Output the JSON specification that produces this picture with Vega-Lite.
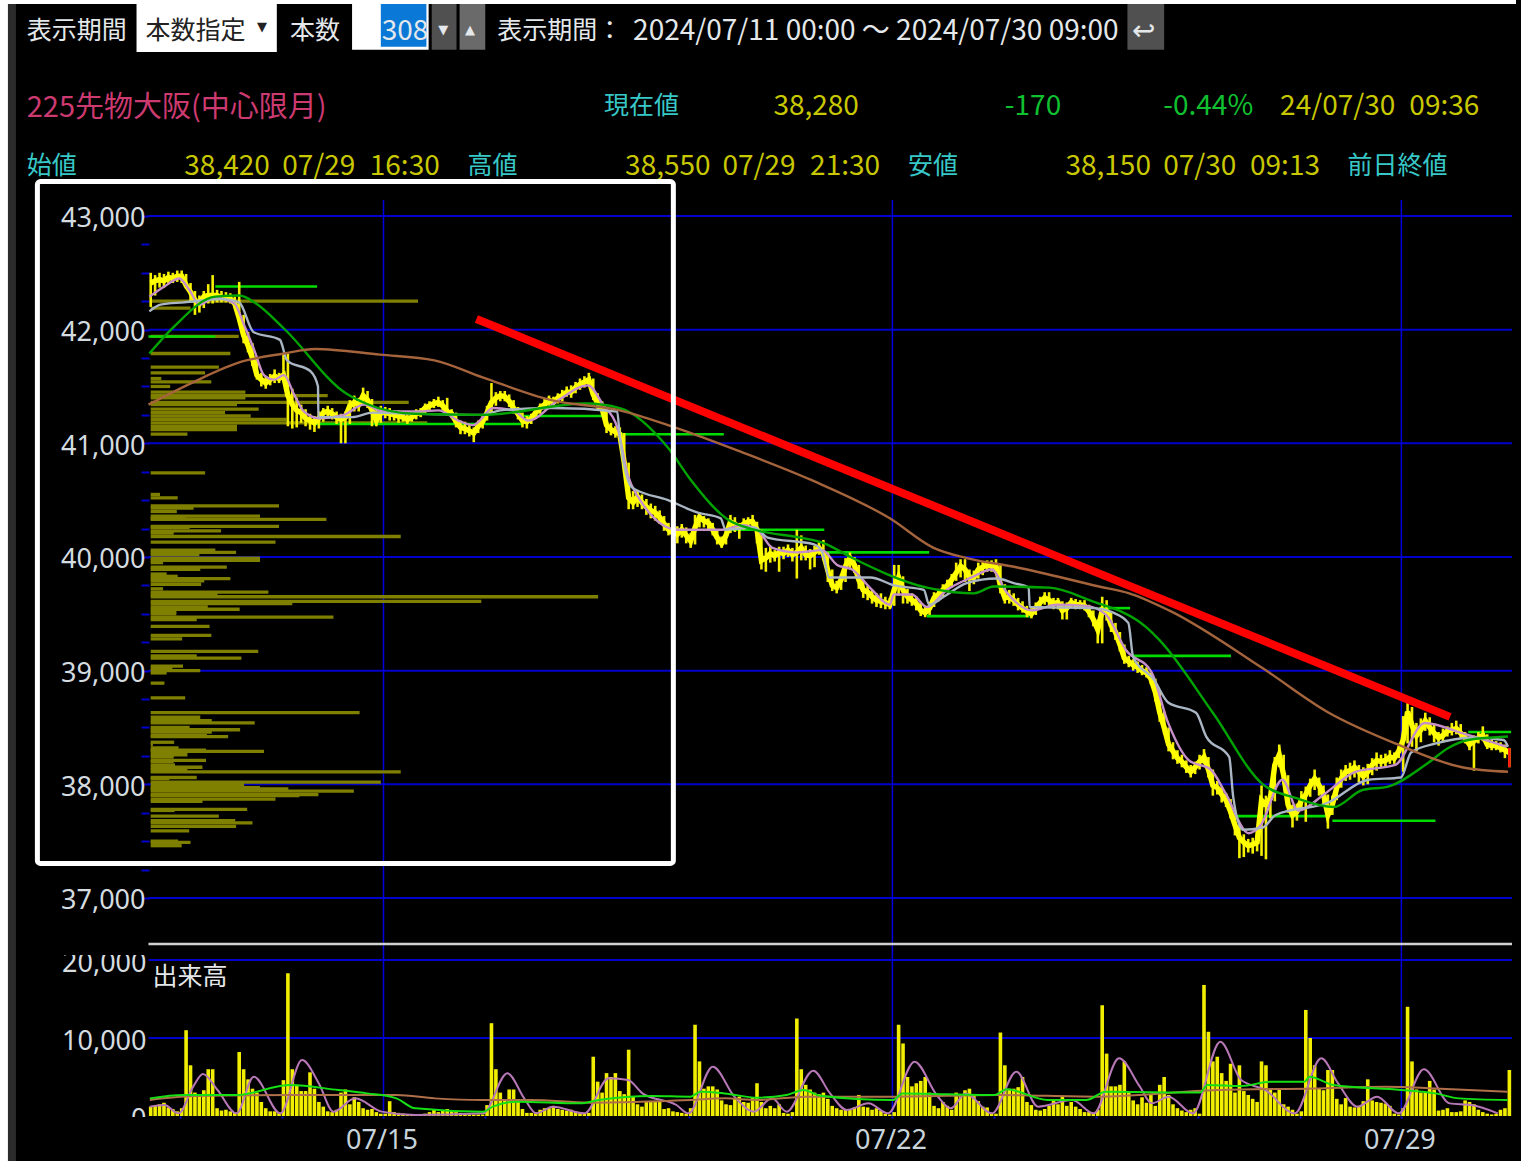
{"$schema":"https://vega.github.io/schema/vega-lite/v6.json","width":1521,"height":1161,"padding":0,"autosize":{"type":"fit","contains":"padding"},"background":"#000000","config":{"view":{"stroke":null}},
"datasets":{
"chrome":[{"a":-34.05,"b":-32.25,"t":0.5,"u":19.85,"kind":"white"},{"a":-32.25,"b":-30.45,"t":0.567,"u":19.85,"kind":"strip"},{"a":-34.05,"b":308.5,"t":0.5,"u":0.567,"kind":"white"},{"a":-3.2,"b":28.5,"t":0.567,"u":1.367,"kind":"white"},{"a":45.5,"b":62.8,"t":0.567,"u":1.33,"kind":"white"},{"a":52,"b":62.3,"t":0.567,"u":1.28,"kind":"select"},{"a":63.5,"b":69.1,"t":0.567,"u":1.33,"kind":"btn1"},{"a":69.8,"b":75.6,"t":0.567,"u":1.33,"kind":"btn2"},{"a":220.7,"b":229,"t":0.567,"u":1.33,"kind":"btn1"}],
"texts":[{"label":"表示期間","col":-28,"line":1,"group":"caption","kind":"ui"},{"label":"本数指定","col":-1.2,"line":1,"group":"caption","kind":"inverse"},{"label":"本数","col":31.5,"line":1,"group":"caption","kind":"ui"},{"label":"表示期間：","col":78.3,"line":1,"group":"caption","kind":"ui"},{"label":"308","col":52.2,"line":1,"group":"number","kind":"ui"},{"label":"2024/07/11 00:00 ～ 2024/07/30 09:00","col":109,"line":1,"group":"number","kind":"ui"},{"label":"↩","col":221.8,"line":1,"group":"number","kind":"ui"},{"label":"▼","col":24,"line":0.95,"group":"arrow","kind":"inverse"},{"label":"▼","col":65,"line":1,"group":"arrow","kind":"ui"},{"label":"▲","col":71,"line":1,"group":"arrow","kind":"ui"},
{"label":"225先物大阪(中心限月)","col":-28,"line":2.3,"group":"title","kind":"title"},{"label":"現在値","col":102.4,"line":2.25,"group":"caption","kind":"label"},{"label":"38,280","col":140.7,"line":2.25,"group":"number","kind":"value"},{"label":"-170","col":193,"line":2.25,"group":"number","kind":"change"},{"label":"-0.44%","col":228.8,"line":2.25,"group":"number","kind":"change"},{"label":"24/07/30","col":255.2,"line":2.25,"group":"number","kind":"value"},{"label":"09:36","col":284.4,"line":2.25,"group":"number","kind":"value"},
{"label":"始値","col":-28,"line":3.25,"group":"caption","kind":"label"},{"label":"38,420","col":7.6,"line":3.25,"group":"number","kind":"value"},{"label":"07/29","col":29.7,"line":3.25,"group":"number","kind":"value"},{"label":"16:30","col":49.5,"line":3.25,"group":"number","kind":"value"},{"label":"高値","col":71.6,"line":3.25,"group":"caption","kind":"label"},{"label":"38,550","col":107.2,"line":3.25,"group":"number","kind":"value"},{"label":"07/29","col":129.2,"line":3.25,"group":"number","kind":"value"},{"label":"21:30","col":149,"line":3.25,"group":"number","kind":"value"},{"label":"安値","col":171.1,"line":3.25,"group":"caption","kind":"label"},{"label":"38,150","col":206.7,"line":3.25,"group":"number","kind":"value"},{"label":"07/30","col":228.8,"line":3.25,"group":"number","kind":"value"},{"label":"09:13","col":248.4,"line":3.25,"group":"number","kind":"value"},{"label":"前日終値","col":270.4,"line":3.25,"group":"caption","kind":"label"},{"label":"出来高","col":0.4,"line":16.77,"group":"caption","kind":"ui"}],
"priceGrid":[{"level":43000,"from":-0.5,"to":307.6},{"level":42000,"from":-0.5,"to":307.6},{"level":41000,"from":-0.5,"to":307.6},{"level":40000,"from":-0.5,"to":307.6},{"level":39000,"from":-0.5,"to":307.6},{"level":38000,"from":-0.5,"to":307.6},{"level":37000,"from":-0.5,"to":307.6}],
"weeks":[{"bar":52.6,"top":43140,"bottom":35082},{"bar":167.6,"top":43140,"bottom":35082},{"bar":282.6,"top":43140,"bottom":35082}],
"frame":[{"left":-25.6,"right":118.1,"top":43303,"bottom":37304}],
"trend":[{"bar":73.6,"price":42094},{"bar":293.6,"price":38593}],
"pivots":[{"from":14.6,"to":37.6,"level":42380},{"from":-0.5,"to":14.6,"level":41940},{"from":37.3,"to":84.2,"level":41170},{"from":84,"to":102.7,"level":41240},{"from":106.5,"to":129.5,"level":41080},{"from":130.4,"to":152.2,"level":40240},{"from":152.2,"to":175.9,"level":40040},{"from":175.4,"to":198.6,"level":39480},{"from":214.3,"to":221.3,"level":39550},{"from":222,"to":244.1,"level":39130},{"from":244.6,"to":266.2,"level":37720},{"from":267,"to":290.3,"level":37680},{"from":297.7,"to":307.4,"level":38460}],
"profile":[{"price":42250,"extent":60.4},{"price":42190,"extent":9},{"price":41940,"extent":19.9},{"price":41790,"extent":18},{"price":41670,"extent":15.4},{"price":41620,"extent":12.3},{"price":41570,"extent":2.4},{"price":41540,"extent":13.7},{"price":41500,"extent":4.4},{"price":41450,"extent":21.4},{"price":41420,"extent":40},{"price":41400,"extent":21.4},{"price":41360,"extent":58.3},{"price":41340,"extent":19.5},{"price":41300,"extent":24.4},{"price":41270,"extent":16.8},{"price":41240,"extent":22.6},{"price":41210,"extent":30.7},{"price":41180,"extent":62.5},{"price":41150,"extent":19.5},{"price":41120,"extent":19.5},{"price":41080,"extent":8.3},{"price":40740,"extent":12.3},{"price":40550,"extent":2.1},{"price":40520,"extent":6.1},{"price":40450,"extent":29},{"price":40430,"extent":9.7},{"price":40400,"extent":5.9},{"price":40360,"extent":24.7},{"price":40340,"extent":7.9},{"price":40330,"extent":39.7},{"price":40270,"extent":29},{"price":40260,"extent":8.8},{"price":40230,"extent":15.9},{"price":40210,"extent":5.2},{"price":40180,"extent":56.5},{"price":40130,"extent":28.2},{"price":40060,"extent":14.6},{"price":40040,"extent":19.3},{"price":40020,"extent":11},{"price":39990,"extent":24.7},{"price":39970,"extent":24.7},{"price":39950,"extent":2.8},{"price":39910,"extent":17.2},{"price":39890,"extent":11.2},{"price":39850,"extent":3.6},{"price":39830,"extent":6.1},{"price":39810,"extent":18},{"price":39790,"extent":12.1},{"price":39760,"extent":11.4},{"price":39720,"extent":2.8},{"price":39690,"extent":26.6},{"price":39670,"extent":15.1},{"price":39650,"extent":101.1},{"price":39610,"extent":74.7},{"price":39590,"extent":32},{"price":39560,"extent":12.9},{"price":39540,"extent":20.1},{"price":39520,"extent":5.8},{"price":39500,"extent":5.8},{"price":39470,"extent":41.3},{"price":39450,"extent":10.4},{"price":39390,"extent":13.3},{"price":39310,"extent":13.7},{"price":39280,"extent":7.1},{"price":39170,"extent":24.3},{"price":39130,"extent":10.4},{"price":39110,"extent":20.5},{"price":39040,"extent":7.3},{"price":39020,"extent":4.9},{"price":39000,"extent":11.2},{"price":38980,"extent":3.6},{"price":38890,"extent":3.1},{"price":38760,"extent":7.8},{"price":38630,"extent":47.2},{"price":38590,"extent":11.2},{"price":38560,"extent":13.8},{"price":38540,"extent":23.5},{"price":38500,"extent":8.8},{"price":38480,"extent":20.2},{"price":38460,"extent":13.8},{"price":38430,"extent":12.7},{"price":38420,"extent":17.5},{"price":38370,"extent":5.3},{"price":38350,"extent":0.5},{"price":38320,"extent":6.3},{"price":38300,"extent":12.5},{"price":38290,"extent":25.6},{"price":38260,"extent":8.3},{"price":38240,"extent":5.2},{"price":38210,"extent":12.5},{"price":38200,"extent":5.2},{"price":38170,"extent":5.5},{"price":38150,"extent":11.7},{"price":38130,"extent":8.3},{"price":38110,"extent":56.5},{"price":38060,"extent":10.4},{"price":38050,"extent":4.2},{"price":38020,"extent":52},{"price":38000,"extent":21.1},{"price":37970,"extent":24.7},{"price":37960,"extent":31.1},{"price":37940,"extent":45.9},{"price":37910,"extent":37.9},{"price":37900,"extent":33.6},{"price":37870,"extent":28.2},{"price":37850,"extent":11.7},{"price":37780,"extent":21.8},{"price":37770,"extent":5.4},{"price":37720,"extent":15.4},{"price":37680,"extent":19.1},{"price":37660,"extent":23},{"price":37630,"extent":19.3},{"price":37590,"extent":8.7},{"price":37500,"extent":6.2},{"price":37490,"extent":9},{"price":37460,"extent":7}],
"priceMA":[{"ma":"short","bar":-0.3,"v":42290},{"ma":"short","bar":3.1,"v":42380},{"ma":"short","bar":6.5,"v":42450},{"ma":"short","bar":8.7,"v":42350},{"ma":"short","bar":11,"v":42220},{"ma":"short","bar":14.4,"v":42280},{"ma":"short","bar":18.9,"v":42230},{"ma":"short","bar":21.1,"v":42040},{"ma":"short","bar":23.4,"v":41820},{"ma":"short","bar":25.6,"v":41600},{"ma":"short","bar":27.9,"v":41560},{"ma":"short","bar":30.1,"v":41600},{"ma":"short","bar":32.4,"v":41430},{"ma":"short","bar":34.6,"v":41280},{"ma":"short","bar":38,"v":41220},{"ma":"short","bar":43.6,"v":41250},{"ma":"short","bar":48.2,"v":41340},{"ma":"short","bar":52.7,"v":41280},{"ma":"short","bar":60.5,"v":41280},{"ma":"short","bar":65,"v":41290},{"ma":"short","bar":69.5,"v":41200},{"ma":"short","bar":72.9,"v":41160},{"ma":"short","bar":77.4,"v":41310},{"ma":"short","bar":81.9,"v":41290},{"ma":"short","bar":85.3,"v":41200},{"ma":"short","bar":92.1,"v":41380},{"ma":"short","bar":98.8,"v":41510},{"ma":"short","bar":102.2,"v":41340},{"ma":"short","bar":105.6,"v":41120},{"ma":"short","bar":107.8,"v":40720},{"ma":"short","bar":110.1,"v":40530},{"ma":"short","bar":119.1,"v":40240},{"ma":"short","bar":123.6,"v":40240},{"ma":"short","bar":129.2,"v":40240},{"ma":"short","bar":133.7,"v":40280},{"ma":"short","bar":137.1,"v":40240},{"ma":"short","bar":140.5,"v":40080},{"ma":"short","bar":146.1,"v":40040},{"ma":"short","bar":151.7,"v":40060},{"ma":"short","bar":155.1,"v":39930},{"ma":"short","bar":158.5,"v":39890},{"ma":"short","bar":163,"v":39710},{"ma":"short","bar":167,"v":39580},{"ma":"short","bar":167.9,"v":39670},{"ma":"short","bar":172,"v":39670},{"ma":"short","bar":175.4,"v":39560},{"ma":"short","bar":179.9,"v":39710},{"ma":"short","bar":185.5,"v":39820},{"ma":"short","bar":190,"v":39890},{"ma":"short","bar":193.4,"v":39690},{"ma":"short","bar":199.1,"v":39530},{"ma":"short","bar":204.7,"v":39580},{"ma":"short","bar":211.4,"v":39570},{"ma":"short","bar":215.9,"v":39490},{"ma":"short","bar":220.4,"v":39180},{"ma":"short","bar":226.1,"v":38990},{"ma":"short","bar":229.9,"v":38540},{"ma":"short","bar":234.6,"v":38210},{"ma":"short","bar":239.5,"v":38130},{"ma":"short","bar":242.9,"v":37920},{"ma":"short","bar":248.1,"v":37570},{"ma":"short","bar":250.8,"v":37640},{"ma":"short","bar":255.7,"v":38040},{"ma":"short","bar":259.3,"v":37770},{"ma":"short","bar":265.4,"v":37920},{"ma":"short","bar":272.2,"v":38110},{"ma":"short","bar":281.2,"v":38170},{"ma":"short","bar":287.9,"v":38540},{"ma":"short","bar":296.3,"v":38450},{"ma":"short","bar":306.4,"v":38330},
{"ma":"mid","bar":-0.3,"v":42160},{"ma":"mid","bar":2.2,"v":42220},{"ma":"mid","bar":7.6,"v":42240},{"ma":"mid","bar":16.2,"v":42270},{"ma":"mid","bar":20,"v":42240},{"ma":"mid","bar":23.2,"v":41980},{"ma":"mid","bar":29.2,"v":41910},{"ma":"mid","bar":30.8,"v":41730},{"ma":"mid","bar":36.2,"v":41630},{"ma":"mid","bar":37.8,"v":41500},{"ma":"mid","bar":37.9,"v":41230},{"ma":"mid","bar":45.5,"v":41230},{"ma":"mid","bar":50.2,"v":41270},{"ma":"mid","bar":59.4,"v":41260},{"ma":"mid","bar":75,"v":41250},{"ma":"mid","bar":79,"v":41290},{"ma":"mid","bar":90.5,"v":41310},{"ma":"mid","bar":105.4,"v":41280},{"ma":"mid","bar":106,"v":41060},{"ma":"mid","bar":108.8,"v":40610},{"ma":"mid","bar":116.9,"v":40500},{"ma":"mid","bar":123.6,"v":40390},{"ma":"mid","bar":128.8,"v":40340},{"ma":"mid","bar":129.9,"v":40240},{"ma":"mid","bar":136.4,"v":40260},{"ma":"mid","bar":139.4,"v":40170},{"ma":"mid","bar":149.9,"v":40110},{"ma":"mid","bar":151.8,"v":40040},{"ma":"mid","bar":153.3,"v":39820},{"ma":"mid","bar":162.6,"v":39820},{"ma":"mid","bar":168,"v":39750},{"ma":"mid","bar":174.7,"v":39710},{"ma":"mid","bar":175.9,"v":39580},{"ma":"mid","bar":179.2,"v":39650},{"ma":"mid","bar":184.4,"v":39770},{"ma":"mid","bar":191.2,"v":39810},{"ma":"mid","bar":195,"v":39770},{"ma":"mid","bar":198.4,"v":39730},{"ma":"mid","bar":198.6,"v":39560},{"ma":"mid","bar":213,"v":39550},{"ma":"mid","bar":217.5,"v":39510},{"ma":"mid","bar":220.9,"v":39420},{"ma":"mid","bar":222,"v":39120},{"ma":"mid","bar":226.7,"v":38920},{"ma":"mid","bar":229.9,"v":38720},{"ma":"mid","bar":236.2,"v":38630},{"ma":"mid","bar":238.5,"v":38420},{"ma":"mid","bar":243.7,"v":38240},{"ma":"mid","bar":244.6,"v":37890},{"ma":"mid","bar":246.8,"v":37600},{"ma":"mid","bar":251.3,"v":37620},{"ma":"mid","bar":254.2,"v":37730},{"ma":"mid","bar":266.1,"v":37840},{"ma":"mid","bar":275.1,"v":38040},{"ma":"mid","bar":282.5,"v":38060},{"ma":"mid","bar":284.8,"v":38280},{"ma":"mid","bar":290.4,"v":38360},{"ma":"mid","bar":298.7,"v":38410},{"ma":"mid","bar":305.7,"v":38390},{"ma":"mid","bar":306.7,"v":38330},
{"ma":"long","bar":-0.3,"v":41790},{"ma":"long","bar":5.1,"v":42020},{"ma":"long","bar":14.6,"v":42290},{"ma":"long","bar":20,"v":42300},{"ma":"long","bar":23.8,"v":42230},{"ma":"long","bar":30.1,"v":42010},{"ma":"long","bar":44.1,"v":41440},{"ma":"long","bar":48.6,"v":41350},{"ma":"long","bar":59.4,"v":41260},{"ma":"long","bar":75,"v":41250},{"ma":"long","bar":98.4,"v":41350},{"ma":"long","bar":106,"v":41310},{"ma":"long","bar":116.9,"v":40960},{"ma":"long","bar":122,"v":40680},{"ma":"long","bar":130.4,"v":40330},{"ma":"long","bar":136.4,"v":40240},{"ma":"long","bar":146.8,"v":40170},{"ma":"long","bar":152.2,"v":40120},{"ma":"long","bar":158.1,"v":40000},{"ma":"long","bar":175.4,"v":39730},{"ma":"long","bar":181.5,"v":39690},{"ma":"long","bar":186,"v":39680},{"ma":"long","bar":190.5,"v":39740},{"ma":"long","bar":203.1,"v":39730},{"ma":"long","bar":212.1,"v":39620},{"ma":"long","bar":225,"v":39380},{"ma":"long","bar":227.9,"v":39270},{"ma":"long","bar":240,"v":38630},{"ma":"long","bar":251.3,"v":38000},{"ma":"long","bar":258.7,"v":37880},{"ma":"long","bar":267.3,"v":37800},{"ma":"long","bar":273.8,"v":37950},{"ma":"long","bar":279.6,"v":37980},{"ma":"long","bar":288.7,"v":38190},{"ma":"long","bar":293.2,"v":38320},{"ma":"long","bar":297.7,"v":38390},{"ma":"long","bar":306.7,"v":38420},
{"ma":"slow","bar":-0.5,"v":41340},{"ma":"slow","bar":9.2,"v":41530},{"ma":"slow","bar":20.7,"v":41720},{"ma":"slow","bar":30.1,"v":41790},{"ma":"slow","bar":37.1,"v":41830},{"ma":"slow","bar":51.8,"v":41780},{"ma":"slow","bar":64.1,"v":41730},{"ma":"slow","bar":75,"v":41580},{"ma":"slow","bar":90.5,"v":41380},{"ma":"slow","bar":106,"v":41290},{"ma":"slow","bar":116.9,"v":41160},{"ma":"slow","bar":133.7,"v":40920},{"ma":"slow","bar":149.1,"v":40680},{"ma":"slow","bar":167,"v":40340},{"ma":"slow","bar":176.9,"v":40080},{"ma":"slow","bar":184.4,"v":39990},{"ma":"slow","bar":195.6,"v":39910},{"ma":"slow","bar":214.3,"v":39740},{"ma":"slow","bar":221.1,"v":39680},{"ma":"slow","bar":230.1,"v":39530},{"ma":"slow","bar":251.3,"v":39020},{"ma":"slow","bar":266.2,"v":38630},{"ma":"slow","bar":281.2,"v":38360},{"ma":"slow","bar":296.3,"v":38150},{"ma":"slow","bar":306.7,"v":38110}],
"volumeMA":[{"ma":"short","bar":-0.2,"v":1200},{"ma":"short","bar":3.1,"v":1400},{"ma":"short","bar":6.3,"v":340},{"ma":"short","bar":9.6,"v":3760},{"ma":"short","bar":11.8,"v":5380},{"ma":"short","bar":15.1,"v":3330},{"ma":"short","bar":19.4,"v":340},{"ma":"short","bar":23.3,"v":5040},{"ma":"short","bar":29.3,"v":340},{"ma":"short","bar":34.2,"v":7170},{"ma":"short","bar":38,"v":4180},{"ma":"short","bar":41.3,"v":560},{"ma":"short","bar":46.2,"v":2260},{"ma":"short","bar":52.2,"v":560},{"ma":"short","bar":59.8,"v":130},{"ma":"short","bar":75.1,"v":340},{"ma":"short","bar":80.6,"v":5470},{"ma":"short","bar":84.4,"v":2260},{"ma":"short","bar":87.1,"v":340},{"ma":"short","bar":90.9,"v":1200},{"ma":"short","bar":98,"v":340},{"ma":"short","bar":103.5,"v":4830},{"ma":"short","bar":107.9,"v":4610},{"ma":"short","bar":111.1,"v":2900},{"ma":"short","bar":118.8,"v":1410},{"ma":"short","bar":121.5,"v":340},{"ma":"short","bar":127,"v":6320},{"ma":"short","bar":131.9,"v":2480},{"ma":"short","bar":136.3,"v":560},{"ma":"short","bar":140.4,"v":2260},{"ma":"short","bar":143.7,"v":560},{"ma":"short","bar":149.7,"v":5810},{"ma":"short","bar":153.5,"v":2900},{"ma":"short","bar":157.3,"v":770},{"ma":"short","bar":162.2,"v":1620},{"ma":"short","bar":166.6,"v":340},{"ma":"short","bar":172.6,"v":6960},{"ma":"short","bar":177.6,"v":2690},{"ma":"short","bar":180.8,"v":980},{"ma":"short","bar":184.1,"v":2900},{"ma":"short","bar":190.1,"v":340},{"ma":"short","bar":195.6,"v":5680},{"ma":"short","bar":200.5,"v":1200},{"ma":"short","bar":208.2,"v":2050},{"ma":"short","bar":213.1,"v":340},{"ma":"short","bar":218.8,"v":7390},{"ma":"short","bar":223.5,"v":3760},{"ma":"short","bar":226.2,"v":1620},{"ma":"short","bar":230,"v":2480},{"ma":"short","bar":235.5,"v":340},{"ma":"short","bar":241.7,"v":9520},{"ma":"short","bar":246.4,"v":4610},{"ma":"short","bar":251.9,"v":3330},{"ma":"short","bar":258.5,"v":340},{"ma":"short","bar":264.5,"v":7390},{"ma":"short","bar":268.3,"v":4180},{"ma":"short","bar":272.7,"v":1200},{"ma":"short","bar":277.1,"v":2480},{"ma":"short","bar":282,"v":340},{"ma":"short","bar":287.7,"v":5980},{"ma":"short","bar":293.5,"v":1620},{"ma":"short","bar":298.4,"v":1410},{"ma":"short","bar":304.4,"v":340},
{"ma":"slow","bar":-0.2,"v":2050},{"ma":"slow","bar":9.6,"v":2560},{"ma":"slow","bar":31.5,"v":2690},{"ma":"slow","bar":55.5,"v":2690},{"ma":"slow","bar":64.2,"v":2260},{"ma":"slow","bar":75.1,"v":2050},{"ma":"slow","bar":86,"v":2050},{"ma":"slow","bar":99.2,"v":1710},{"ma":"slow","bar":122,"v":2050},{"ma":"slow","bar":129.7,"v":2260},{"ma":"slow","bar":137.1,"v":2050},{"ma":"slow","bar":148,"v":2480},{"ma":"slow","bar":167.7,"v":2480},{"ma":"slow","bar":191.8,"v":2690},{"ma":"slow","bar":213.6,"v":2480},{"ma":"slow","bar":241,"v":3330},{"ma":"slow","bar":262.8,"v":3540},{"ma":"slow","bar":279.2,"v":3760},{"ma":"slow","bar":290.2,"v":3540},{"ma":"slow","bar":306.6,"v":3120},
{"ma":"long","bar":-0.2,"v":2260},{"ma":"long","bar":7.4,"v":2690},{"ma":"long","bar":19.4,"v":2690},{"ma":"long","bar":31.5,"v":3970},{"ma":"long","bar":42.4,"v":3330},{"ma":"long","bar":48.9,"v":2900},{"ma":"long","bar":55.5,"v":2260},{"ma":"long","bar":59.8,"v":980},{"ma":"long","bar":75.1,"v":550},{"ma":"long","bar":77.3,"v":1200},{"ma":"long","bar":82.8,"v":1840},{"ma":"long","bar":97,"v":1620},{"ma":"long","bar":101.3,"v":2050},{"ma":"long","bar":113.3,"v":2560},{"ma":"long","bar":122,"v":2480},{"ma":"long","bar":124.2,"v":3120},{"ma":"long","bar":129.7,"v":2900},{"ma":"long","bar":137.1,"v":2350},{"ma":"long","bar":143.7,"v":2690},{"ma":"long","bar":147.5,"v":3330},{"ma":"long","bar":151.3,"v":2600},{"ma":"long","bar":167.7,"v":2050},{"ma":"long","bar":169.9,"v":2900},{"ma":"long","bar":190.7,"v":2690},{"ma":"long","bar":193.4,"v":3420},{"ma":"long","bar":202.7,"v":2050},{"ma":"long","bar":211.4,"v":2050},{"ma":"long","bar":215.8,"v":3120},{"ma":"long","bar":237.1,"v":3000},{"ma":"long","bar":238.8,"v":3970},{"ma":"long","bar":246.4,"v":3840},{"ma":"long","bar":253,"v":4400},{"ma":"long","bar":260.7,"v":4400},{"ma":"long","bar":261.8,"v":5040},{"ma":"long","bar":267.2,"v":3970},{"ma":"long","bar":282.5,"v":3330},{"ma":"long","bar":290.2,"v":2900},{"ma":"long","bar":295.6,"v":2260},{"ma":"long","bar":306.6,"v":2050}],
"volumeGrid":[{"level":20000,"from":-0.5,"to":307.6},{"level":10000,"from":-0.5,"to":307.6}],
"separator":[{"level":22050,"from":-0.5,"to":307.6}],
"masks":[{"a":-7,"b":-0.5,"t":-128,"u":-1538},{"a":-20.5,"b":-0.7,"t":21923,"u":20641}],
"bars":[{"bar":0,"close":42410,"high":42500,"low":42200,"volume":1200},{"bar":1,"close":42430,"high":42480,"low":42300,"volume":1300},{"bar":2,"close":42440,"high":42500,"low":42370,"volume":1500},{"bar":3,"close":42430,"high":42490,"low":42370,"volume":1700},{"bar":4,"close":42460,"high":42510,"low":42400,"volume":1100},{"bar":5,"close":42450,"high":42500,"low":42410,"volume":900},{"bar":6,"close":42470,"high":42520,"low":42420,"volume":600},{"bar":7,"close":42470,"high":42520,"low":42410,"volume":1000},{"bar":8,"close":42390,"high":42490,"low":42360,"volume":11000},{"bar":9,"close":42330,"high":42410,"low":42250,"volume":6500},{"bar":10,"close":42260,"high":42340,"low":42130,"volume":3000},{"bar":11,"close":42230,"high":42300,"low":42150,"volume":2800},{"bar":12,"close":42290,"high":42340,"low":42190,"volume":3300},{"bar":13,"close":42300,"high":42400,"low":42230,"volume":6000},{"bar":14,"close":42300,"high":42480,"low":42230,"volume":6000},{"bar":15,"close":42300,"high":42350,"low":42240,"volume":1000},{"bar":16,"close":42280,"high":42340,"low":42240,"volume":700},{"bar":17,"close":42280,"high":42330,"low":42240,"volume":800},{"bar":18,"close":42270,"high":42320,"low":42230,"volume":600},{"bar":19,"close":42230,"high":42290,"low":42190,"volume":400},{"bar":20,"close":42100,"high":42420,"low":42060,"volume":8200},{"bar":21,"close":41950,"high":42130,"low":41880,"volume":6000},{"bar":22,"close":41860,"high":41980,"low":41800,"volume":4700},{"bar":23,"close":41750,"high":41880,"low":41680,"volume":3500},{"bar":24,"close":41600,"high":41760,"low":41560,"volume":3000},{"bar":25,"close":41560,"high":41620,"low":41500,"volume":1800},{"bar":26,"close":41530,"high":41590,"low":41480,"volume":1000},{"bar":27,"close":41560,"high":41610,"low":41510,"volume":600},{"bar":28,"close":41590,"high":41650,"low":41530,"volume":600},{"bar":29,"close":41570,"high":41620,"low":41530,"volume":400},{"bar":30,"close":41600,"high":41790,"low":41550,"volume":4600},{"bar":31,"close":41420,"high":41790,"low":41150,"volume":18300},{"bar":32,"close":41340,"high":41480,"low":41130,"volume":6000},{"bar":33,"close":41290,"high":41400,"low":41140,"volume":4000},{"bar":34,"close":41270,"high":41340,"low":41180,"volume":3200},{"bar":35,"close":41220,"high":41300,"low":41150,"volume":3200},{"bar":36,"close":41200,"high":41260,"low":41120,"volume":5600},{"bar":37,"close":41180,"high":41240,"low":41100,"volume":3500},{"bar":38,"close":41220,"high":41280,"low":41130,"volume":1800},{"bar":39,"close":41270,"high":41310,"low":41190,"volume":1200},{"bar":40,"close":41280,"high":41330,"low":41220,"volume":600},{"bar":41,"close":41260,"high":41310,"low":41210,"volume":500},{"bar":42,"close":41230,"high":41280,"low":41170,"volume":800},{"bar":43,"close":41210,"high":41260,"low":41000,"volume":3000},{"bar":44,"close":41230,"high":41280,"low":41000,"volume":3400},{"bar":45,"close":41330,"high":41380,"low":41170,"volume":1500},{"bar":46,"close":41360,"high":41420,"low":41280,"volume":2400},{"bar":47,"close":41340,"high":41400,"low":41280,"volume":1800},{"bar":48,"close":41420,"high":41490,"low":41340,"volume":1000},{"bar":49,"close":41380,"high":41460,"low":41310,"volume":800},{"bar":50,"close":41290,"high":41390,"low":41150,"volume":900},{"bar":51,"close":41200,"high":41310,"low":41150,"volume":500},{"bar":52,"close":41270,"high":41330,"low":41180,"volume":300},{"bar":53,"close":41270,"high":41320,"low":41220,"volume":300},{"bar":54,"close":41260,"high":41310,"low":41200,"volume":1900},{"bar":55,"close":41250,"high":41290,"low":41200,"volume":500},{"bar":56,"close":41240,"high":41290,"low":41180,"volume":400},{"bar":57,"close":41230,"high":41280,"low":41190,"volume":300},{"bar":58,"close":41210,"high":41260,"low":41170,"volume":200},{"bar":59,"close":41230,"high":41270,"low":41190,"volume":200},{"bar":60,"close":41260,"high":41300,"low":41210,"volume":150},{"bar":61,"close":41270,"high":41310,"low":41230,"volume":200},{"bar":62,"close":41310,"high":41350,"low":41260,"volume":300},{"bar":63,"close":41330,"high":41370,"low":41280,"volume":500},{"bar":64,"close":41350,"high":41390,"low":41310,"volume":900},{"bar":65,"close":41360,"high":41410,"low":41320,"volume":500},{"bar":66,"close":41330,"high":41380,"low":41290,"volume":700},{"bar":67,"close":41280,"high":41400,"low":41240,"volume":900},{"bar":68,"close":41260,"high":41300,"low":41220,"volume":700},{"bar":69,"close":41190,"high":41270,"low":41140,"volume":500},{"bar":70,"close":41140,"high":41200,"low":41080,"volume":400},{"bar":71,"close":41130,"high":41190,"low":41080,"volume":300},{"bar":72,"close":41110,"high":41160,"low":41060,"volume":200},{"bar":73,"close":41090,"high":41140,"low":41010,"volume":200},{"bar":74,"close":41150,"high":41200,"low":41090,"volume":200},{"bar":75,"close":41190,"high":41240,"low":41130,"volume":200},{"bar":76,"close":41270,"high":41330,"low":41200,"volume":1400},{"bar":77,"close":41360,"high":41530,"low":41270,"volume":11900},{"bar":78,"close":41400,"high":41450,"low":41330,"volume":6000},{"bar":79,"close":41420,"high":41460,"low":41370,"volume":3000},{"bar":80,"close":41410,"high":41460,"low":41370,"volume":2000},{"bar":81,"close":41370,"high":41430,"low":41320,"volume":3400},{"bar":82,"close":41310,"high":41380,"low":41260,"volume":3400},{"bar":83,"close":41260,"high":41320,"low":41210,"volume":2000},{"bar":84,"close":41200,"high":41270,"low":41140,"volume":900},{"bar":85,"close":41190,"high":41240,"low":41130,"volume":400},{"bar":86,"close":41220,"high":41260,"low":41170,"volume":400},{"bar":87,"close":41270,"high":41310,"low":41220,"volume":500},{"bar":88,"close":41310,"high":41350,"low":41260,"volume":800},{"bar":89,"close":41340,"high":41390,"low":41300,"volume":1000},{"bar":90,"close":41380,"high":41420,"low":41330,"volume":1000},{"bar":91,"close":41360,"high":41410,"low":41320,"volume":1300},{"bar":92,"close":41400,"high":41440,"low":41350,"volume":900},{"bar":93,"close":41420,"high":41470,"low":41370,"volume":800},{"bar":94,"close":41450,"high":41500,"low":41410,"volume":700},{"bar":95,"close":41450,"high":41510,"low":41400,"volume":800},{"bar":96,"close":41490,"high":41540,"low":41440,"volume":600},{"bar":97,"close":41520,"high":41570,"low":41470,"volume":400},{"bar":98,"close":41540,"high":41590,"low":41490,"volume":300},{"bar":99,"close":41560,"high":41620,"low":41510,"volume":400},{"bar":100,"close":41430,"high":41570,"low":41380,"volume":7600},{"bar":101,"close":41350,"high":41440,"low":41290,"volume":4400},{"bar":102,"close":41310,"high":41370,"low":41250,"volume":3000},{"bar":103,"close":41160,"high":41320,"low":41090,"volume":5500},{"bar":104,"close":41120,"high":41180,"low":41070,"volume":5000},{"bar":105,"close":41100,"high":41150,"low":41050,"volume":5500},{"bar":106,"close":41080,"high":41140,"low":41020,"volume":3200},{"bar":107,"close":40830,"high":41090,"low":40740,"volume":2800},{"bar":108,"close":40520,"high":40830,"low":40420,"volume":8500},{"bar":109,"close":40480,"high":40580,"low":40420,"volume":2500},{"bar":110,"close":40530,"high":40590,"low":40440,"volume":1500},{"bar":111,"close":40480,"high":40550,"low":40420,"volume":1200},{"bar":112,"close":40440,"high":40510,"low":40370,"volume":1800},{"bar":113,"close":40410,"high":40470,"low":40340,"volume":1800},{"bar":114,"close":40390,"high":40450,"low":40320,"volume":1800},{"bar":115,"close":40350,"high":40410,"low":40290,"volume":1900},{"bar":116,"close":40290,"high":40360,"low":40230,"volume":900},{"bar":117,"close":40240,"high":40300,"low":40190,"volume":1000},{"bar":118,"close":40210,"high":40270,"low":40130,"volume":600},{"bar":119,"close":40200,"high":40270,"low":40120,"volume":500},{"bar":120,"close":40240,"high":40290,"low":40170,"volume":400},{"bar":121,"close":40190,"high":40260,"low":40120,"volume":300},{"bar":122,"close":40140,"high":40210,"low":40080,"volume":1000},{"bar":123,"close":40260,"high":40370,"low":40110,"volume":11700},{"bar":124,"close":40350,"high":40390,"low":40260,"volume":7000},{"bar":125,"close":40320,"high":40360,"low":40260,"volume":3500},{"bar":126,"close":40300,"high":40340,"low":40240,"volume":3800},{"bar":127,"close":40240,"high":40300,"low":40190,"volume":3800},{"bar":128,"close":40170,"high":40240,"low":40110,"volume":3400},{"bar":129,"close":40120,"high":40180,"low":40080,"volume":2000},{"bar":130,"close":40190,"high":40250,"low":40110,"volume":1500},{"bar":131,"close":40310,"high":40370,"low":40210,"volume":1400},{"bar":132,"close":40290,"high":40350,"low":40220,"volume":2200},{"bar":133,"close":40260,"high":40300,"low":40160,"volume":2500},{"bar":134,"close":40290,"high":40340,"low":40240,"volume":1800},{"bar":135,"close":40310,"high":40350,"low":40270,"volume":1700},{"bar":136,"close":40310,"high":40370,"low":40260,"volume":2400},{"bar":137,"close":40240,"high":40310,"low":40120,"volume":4200},{"bar":138,"close":39970,"high":40240,"low":39890,"volume":1800},{"bar":139,"close":39990,"high":40080,"low":39870,"volume":1000},{"bar":140,"close":40030,"high":40100,"low":39950,"volume":1300},{"bar":141,"close":40010,"high":40060,"low":39960,"volume":1000},{"bar":142,"close":40040,"high":40090,"low":39870,"volume":1500},{"bar":143,"close":40030,"high":40090,"low":39980,"volume":400},{"bar":144,"close":40060,"high":40110,"low":40000,"volume":300},{"bar":145,"close":40020,"high":40080,"low":39960,"volume":500},{"bar":146,"close":40040,"high":40240,"low":39810,"volume":12500},{"bar":147,"close":40080,"high":40190,"low":39970,"volume":6000},{"bar":148,"close":40020,"high":40100,"low":39970,"volume":4000},{"bar":149,"close":40010,"high":40070,"low":39890,"volume":3400},{"bar":150,"close":40040,"high":40100,"low":39910,"volume":3000},{"bar":151,"close":40080,"high":40130,"low":40020,"volume":2800},{"bar":152,"close":40030,"high":40150,"low":39970,"volume":3000},{"bar":153,"close":39880,"high":40040,"low":39780,"volume":2200},{"bar":154,"close":39750,"high":39890,"low":39700,"volume":1300},{"bar":155,"close":39730,"high":39790,"low":39680,"volume":1000},{"bar":156,"close":39800,"high":39850,"low":39710,"volume":800},{"bar":157,"close":39920,"high":39990,"low":39780,"volume":900},{"bar":158,"close":39990,"high":40040,"low":39900,"volume":800},{"bar":159,"close":39930,"high":40000,"low":39860,"volume":1100},{"bar":160,"close":39800,"high":39930,"low":39720,"volume":2700},{"bar":161,"close":39710,"high":39800,"low":39640,"volume":1200},{"bar":162,"close":39690,"high":39750,"low":39620,"volume":1100},{"bar":163,"close":39650,"high":39710,"low":39590,"volume":800},{"bar":164,"close":39620,"high":39680,"low":39560,"volume":1000},{"bar":165,"close":39610,"high":39680,"low":39550,"volume":700},{"bar":166,"close":39600,"high":39650,"low":39540,"volume":300},{"bar":167,"close":39580,"high":39640,"low":39540,"volume":200},{"bar":168,"close":39710,"high":39930,"low":39570,"volume":500},{"bar":169,"close":39820,"high":39930,"low":39660,"volume":11700},{"bar":170,"close":39710,"high":39830,"low":39590,"volume":9300},{"bar":171,"close":39650,"high":39720,"low":39590,"volume":5000},{"bar":172,"close":39620,"high":39680,"low":39570,"volume":3800},{"bar":173,"close":39590,"high":39650,"low":39530,"volume":4200},{"bar":174,"close":39530,"high":39600,"low":39480,"volume":4500},{"bar":175,"close":39510,"high":39570,"low":39470,"volume":5000},{"bar":176,"close":39550,"high":39600,"low":39490,"volume":3000},{"bar":177,"close":39640,"high":39690,"low":39560,"volume":1300},{"bar":178,"close":39670,"high":39720,"low":39610,"volume":1000},{"bar":179,"close":39710,"high":39760,"low":39650,"volume":1800},{"bar":180,"close":39750,"high":39800,"low":39690,"volume":1300},{"bar":181,"close":39800,"high":39850,"low":39730,"volume":800},{"bar":182,"close":39860,"high":39950,"low":39790,"volume":3000},{"bar":183,"close":39920,"high":39980,"low":39820,"volume":2800},{"bar":184,"close":39890,"high":39980,"low":39780,"volume":3300},{"bar":185,"close":39820,"high":39890,"low":39700,"volume":3500},{"bar":186,"close":39820,"high":39880,"low":39760,"volume":2800},{"bar":187,"close":39890,"high":39950,"low":39810,"volume":1900},{"bar":188,"close":39910,"high":39960,"low":39840,"volume":1200},{"bar":189,"close":39930,"high":39970,"low":39870,"volume":1100},{"bar":190,"close":39920,"high":39970,"low":39870,"volume":400},{"bar":191,"close":39920,"high":39980,"low":39870,"volume":300},{"bar":192,"close":39750,"high":39930,"low":39680,"volume":10700},{"bar":193,"close":39640,"high":39760,"low":39590,"volume":6500},{"bar":194,"close":39650,"high":39710,"low":39590,"volume":3500},{"bar":195,"close":39620,"high":39680,"low":39570,"volume":3500},{"bar":196,"close":39580,"high":39640,"low":39530,"volume":3700},{"bar":197,"close":39550,"high":39610,"low":39510,"volume":5000},{"bar":198,"close":39520,"high":39570,"low":39470,"volume":1800},{"bar":199,"close":39500,"high":39550,"low":39460,"volume":1400},{"bar":200,"close":39550,"high":39600,"low":39490,"volume":800},{"bar":201,"close":39600,"high":39650,"low":39540,"volume":700},{"bar":202,"close":39640,"high":39690,"low":39580,"volume":900},{"bar":203,"close":39620,"high":39690,"low":39570,"volume":1300},{"bar":204,"close":39590,"high":39640,"low":39540,"volume":2000},{"bar":205,"close":39600,"high":39640,"low":39540,"volume":1500},{"bar":206,"close":39530,"high":39610,"low":39450,"volume":2600},{"bar":207,"close":39550,"high":39600,"low":39450,"volume":1300},{"bar":208,"close":39600,"high":39640,"low":39550,"volume":1800},{"bar":209,"close":39580,"high":39630,"low":39540,"volume":1200},{"bar":210,"close":39580,"high":39620,"low":39540,"volume":900},{"bar":211,"close":39570,"high":39620,"low":39530,"volume":500},{"bar":212,"close":39520,"high":39580,"low":39470,"volume":500},{"bar":213,"close":39450,"high":39530,"low":39390,"volume":300},{"bar":214,"close":39360,"high":39450,"low":39240,"volume":800},{"bar":215,"close":39530,"high":39650,"low":39240,"volume":14200},{"bar":216,"close":39520,"high":39620,"low":39440,"volume":8000},{"bar":217,"close":39400,"high":39520,"low":39340,"volume":3800},{"bar":218,"close":39340,"high":39420,"low":39270,"volume":3800},{"bar":219,"close":39230,"high":39340,"low":39170,"volume":4000},{"bar":220,"close":39110,"high":39230,"low":39060,"volume":7000},{"bar":221,"close":39080,"high":39130,"low":39030,"volume":3000},{"bar":222,"close":39050,"high":39100,"low":39000,"volume":2000},{"bar":223,"close":39030,"high":39080,"low":38980,"volume":1500},{"bar":224,"close":39000,"high":39050,"low":38960,"volume":2400},{"bar":225,"close":38980,"high":39030,"low":38940,"volume":1700},{"bar":226,"close":38930,"high":38980,"low":38880,"volume":2800},{"bar":227,"close":38810,"high":38930,"low":38730,"volume":1300},{"bar":228,"close":38630,"high":38820,"low":38550,"volume":4000},{"bar":229,"close":38500,"high":38640,"low":38440,"volume":5000},{"bar":230,"close":38350,"high":38500,"low":38290,"volume":2700},{"bar":231,"close":38290,"high":38370,"low":38220,"volume":1500},{"bar":232,"close":38230,"high":38300,"low":38180,"volume":1000},{"bar":233,"close":38200,"high":38260,"low":38150,"volume":700},{"bar":234,"close":38150,"high":38210,"low":38100,"volume":500},{"bar":235,"close":38110,"high":38170,"low":38060,"volume":800},{"bar":236,"close":38150,"high":38200,"low":38090,"volume":1000},{"bar":237,"close":38200,"high":38260,"low":38130,"volume":300},{"bar":238,"close":38240,"high":38310,"low":38180,"volume":16800},{"bar":239,"close":38130,"high":38240,"low":38060,"volume":10800},{"bar":240,"close":37990,"high":38130,"low":37900,"volume":7000},{"bar":241,"close":37970,"high":38030,"low":37910,"volume":7600},{"bar":242,"close":37910,"high":37980,"low":37840,"volume":5500},{"bar":243,"close":37860,"high":37920,"low":37800,"volume":4500},{"bar":244,"close":37760,"high":37870,"low":37700,"volume":6700},{"bar":245,"close":37640,"high":37770,"low":37550,"volume":3000},{"bar":246,"close":37530,"high":37640,"low":37350,"volume":6500},{"bar":247,"close":37490,"high":37560,"low":37360,"volume":3200},{"bar":248,"close":37460,"high":37520,"low":37400,"volume":2700},{"bar":249,"close":37470,"high":37530,"low":37390,"volume":2200},{"bar":250,"close":37490,"high":37550,"low":37410,"volume":1800},{"bar":251,"close":37860,"high":37990,"low":37370,"volume":7000},{"bar":252,"close":37820,"high":37900,"low":37340,"volume":6500},{"bar":253,"close":37880,"high":37950,"low":37700,"volume":3400},{"bar":254,"close":38170,"high":38240,"low":37850,"volume":3000},{"bar":255,"close":38260,"high":38350,"low":38150,"volume":3500},{"bar":256,"close":38080,"high":38260,"low":38000,"volume":1500},{"bar":257,"close":37820,"high":38080,"low":37750,"volume":1200},{"bar":258,"close":37730,"high":37820,"low":37620,"volume":800},{"bar":259,"close":37760,"high":37830,"low":37680,"volume":300},{"bar":260,"close":37860,"high":37940,"low":37780,"volume":600},{"bar":261,"close":37910,"high":37980,"low":37670,"volume":13600},{"bar":262,"close":37990,"high":38050,"low":37890,"volume":10000},{"bar":263,"close":38050,"high":38130,"low":37950,"volume":6500},{"bar":264,"close":37990,"high":38060,"low":37900,"volume":3500},{"bar":265,"close":37910,"high":37990,"low":37820,"volume":3300},{"bar":266,"close":37730,"high":37910,"low":37610,"volume":5900},{"bar":267,"close":37820,"high":37900,"low":37730,"volume":5900},{"bar":268,"close":37970,"high":38060,"low":37860,"volume":2200},{"bar":269,"close":38050,"high":38130,"low":37970,"volume":1500},{"bar":270,"close":38110,"high":38170,"low":38030,"volume":2300},{"bar":271,"close":38120,"high":38190,"low":38040,"volume":1200},{"bar":272,"close":38150,"high":38210,"low":38060,"volume":1100},{"bar":273,"close":38110,"high":38170,"low":38020,"volume":1300},{"bar":274,"close":38070,"high":38150,"low":37990,"volume":1900},{"bar":275,"close":38110,"high":38180,"low":38000,"volume":4700},{"bar":276,"close":38170,"high":38230,"low":38080,"volume":2000},{"bar":277,"close":38210,"high":38280,"low":38120,"volume":1800},{"bar":278,"close":38200,"high":38260,"low":38140,"volume":1700},{"bar":279,"close":38210,"high":38270,"low":38150,"volume":1600},{"bar":280,"close":38240,"high":38300,"low":38180,"volume":1300},{"bar":281,"close":38230,"high":38280,"low":38180,"volume":300},{"bar":282,"close":38290,"high":38340,"low":38230,"volume":200},{"bar":283,"close":38390,"high":38600,"low":38110,"volume":1000},{"bar":284,"close":38640,"high":38720,"low":38360,"volume":14000},{"bar":285,"close":38520,"high":38680,"low":38330,"volume":7000},{"bar":286,"close":38430,"high":38540,"low":38290,"volume":3400},{"bar":287,"close":38480,"high":38580,"low":38370,"volume":3000},{"bar":288,"close":38560,"high":38630,"low":38470,"volume":3000},{"bar":289,"close":38500,"high":38590,"low":38430,"volume":4500},{"bar":290,"close":38450,"high":38530,"low":38370,"volume":3400},{"bar":291,"close":38410,"high":38460,"low":38340,"volume":700},{"bar":292,"close":38430,"high":38490,"low":38370,"volume":800},{"bar":293,"close":38470,"high":38510,"low":38420,"volume":1000},{"bar":294,"close":38480,"high":38540,"low":38430,"volume":500},{"bar":295,"close":38490,"high":38560,"low":38440,"volume":500},{"bar":296,"close":38450,"high":38530,"low":38400,"volume":600},{"bar":297,"close":38410,"high":38460,"low":38360,"volume":2000},{"bar":298,"close":38350,"high":38420,"low":38300,"volume":1800},{"bar":299,"close":38380,"high":38430,"low":38120,"volume":1500},{"bar":300,"close":38410,"high":38460,"low":38360,"volume":800},{"bar":301,"close":38430,"high":38510,"low":38380,"volume":500},{"bar":302,"close":38350,"high":38440,"low":38310,"volume":300},{"bar":303,"close":38340,"high":38390,"low":38300,"volume":200},{"bar":304,"close":38340,"high":38380,"low":38300,"volume":300},{"bar":305,"close":38320,"high":38370,"low":38280,"volume":800},{"bar":306,"close":38300,"high":38350,"low":38230,"volume":1000},{"bar":307,"close":38280,"high":38320,"low":38150,"volume":5900}]
},
"resolve":{"scale":{"y":"independent","color":"independent"},"axis":{"y":"independent"}},
"layer":[
{"layer":[
{"data":{"name":"chrome"},"mark":{"type":"rect"},"encoding":{"x":{"field":"a","type":"quantitative","scale":{"domain":[-34.05,308.5],"nice":false,"zero":false,"padding":0},"axis":{"orient":"bottom","offset":-45,"title":null,"domain":false,"grid":false,"values":[6.6,29.6,52.6,75.6,98.6,121.6,144.6,167.6,190.6,213.6,236.6,259.6,282.6],"labelExpr":"datum.value==52.6?'07/15':datum.value==167.6?'07/22':datum.value==282.6?'07/29':''","tickColor":"#0000cc","tickWidth":2,"tickSize":2,"labelColor":"#c8d4dc","labelFont":"Noto Sans","labelFontSize":27,"labelPadding":9,"labelOffset":-2,"labelOverlap":false,"labelFlush":false}},"x2":{"field":"b"},"y":{"field":"t","type":"quantitative","scale":{"domain":[19.85,0.5],"nice":false,"zero":false},"axis":null},"y2":{"field":"u"},"color":{"field":"kind","type":"nominal","legend":null,"scale":{"domain":["white","strip","select","btn1","btn2","ui","inverse","title","label","value","change"],"range":["#ffffff","#2b2b2b","#0a78d7","#505050","#6a6a6a","#e4e8ea","#222222","#cc3a70","#38c8c8","#c8c800","#10c030"]}}}},
{"data":{"name":"texts"},"transform":[{"filter":"datum.group=='caption'"}],"mark":{"type":"text","align":"left","baseline":"middle","font":"Noto Sans CJK JP","fontSize":25,"dy":1},"encoding":{"x":{"field":"col","type":"quantitative","scale":{"domain":[-34.05,308.5],"nice":false,"zero":false}},"y":{"field":"line","type":"quantitative","scale":{"domain":[19.85,0.5],"nice":false,"zero":false},"axis":null},"text":{"field":"label"},"color":{"field":"kind","type":"nominal","legend":null}}},
{"data":{"name":"texts"},"transform":[{"filter":"datum.group=='number'"}],"mark":{"type":"text","align":"left","baseline":"middle","font":"Noto Sans CJK JP","fontSize":28,"dy":2},"encoding":{"x":{"field":"col","type":"quantitative","scale":{"domain":[-34.05,308.5],"nice":false,"zero":false}},"y":{"field":"line","type":"quantitative","scale":{"domain":[19.85,0.5],"nice":false,"zero":false},"axis":null},"text":{"field":"label"},"color":{"field":"kind","type":"nominal","legend":null}}},
{"data":{"name":"texts"},"transform":[{"filter":"datum.group=='title'"}],"mark":{"type":"text","align":"left","baseline":"middle","font":"Noto Sans CJK JP","fontSize":29},"encoding":{"x":{"field":"col","type":"quantitative","scale":{"domain":[-34.05,308.5],"nice":false,"zero":false}},"y":{"field":"line","type":"quantitative","scale":{"domain":[19.85,0.5],"nice":false,"zero":false},"axis":null},"text":{"field":"label"},"color":{"field":"kind","type":"nominal","legend":null}}},
{"data":{"name":"texts"},"transform":[{"filter":"datum.group=='arrow'"}],"mark":{"type":"text","align":"left","baseline":"middle","font":"DejaVu Sans","fontSize":13},"encoding":{"x":{"field":"col","type":"quantitative","scale":{"domain":[-34.05,308.5],"nice":false,"zero":false}},"y":{"field":"line","type":"quantitative","scale":{"domain":[19.85,0.5],"nice":false,"zero":false},"axis":null},"text":{"field":"label"},"color":{"field":"kind","type":"nominal","legend":null}}}
]},
{"layer":[
{"data":{"name":"priceGrid"},"mark":{"type":"rule","color":"#0000cc","strokeWidth":2},"encoding":{"x":{"field":"from","type":"quantitative","scale":{"domain":[-34.05,308.5],"nice":false,"zero":false}},"x2":{"field":"to"},"y":{"field":"level","type":"quantitative","scale":{"domain":[34686,44900],"nice":false,"zero":false,"padding":0},"axis":{"orient":"left","offset":-149,"title":null,"domain":false,"grid":false,"values":[37000,37250,37500,37750,38000,38250,38500,38750,39000,39250,39500,39750,40000,40250,40500,40750,41000,41250,41500,41750,42000,42250,42500,42750,43000],"labelExpr":"datum.value % 1000 === 0 ? format(datum.value, ',.0f') : ''","tickColor":"#0000cc","tickWidth":2,"tickSize":8,"labelColor":"#d4dce0","labelFont":"Noto Sans","labelFontSize":27,"labelPadding":-4,"labelOffset":3,"labelOverlap":false,"labelFlush":false}}}},
{"data":{"name":"weeks"},"mark":{"type":"rule","color":"#0000dd","strokeWidth":1.5},"encoding":{"x":{"field":"bar","type":"quantitative","scale":{"domain":[-34.05,308.5],"nice":false,"zero":false}},"y":{"field":"top","type":"quantitative","scale":{"domain":[34686,44900],"nice":false,"zero":false}},"y2":{"field":"bottom"}}},
{"data":{"name":"profile"},"mark":{"type":"bar","color":"#808000","size":3.3,"orient":"horizontal"},"encoding":{"x":{"field":"extent","type":"quantitative","stack":null,"scale":{"domain":[-34.05,308.5],"nice":false,"zero":false}},"y":{"field":"price","type":"quantitative","scale":{"domain":[34686,44900],"nice":false,"zero":false,"padding":0}}}},
{"data":{"name":"pivots"},"mark":{"type":"rule","color":"#00dc00","strokeWidth":2.6},"encoding":{"x":{"field":"from","type":"quantitative","scale":{"domain":[-34.05,308.5],"nice":false,"zero":false}},"x2":{"field":"to"},"y":{"field":"level","type":"quantitative","scale":{"domain":[34686,44900],"nice":false,"zero":false}}}},
{"data":{"name":"bars"},"mark":{"type":"rule","color":"#f4f000","strokeWidth":2.6},"encoding":{"x":{"field":"bar","type":"quantitative","scale":{"domain":[-34.05,308.5],"nice":false,"zero":false}},"y":{"field":"high","type":"quantitative","scale":{"domain":[34686,44900],"nice":false,"zero":false}},"y2":{"field":"low"}}},
{"data":{"name":"bars"},"mark":{"type":"line","color":"#ffff00","strokeWidth":5.4},"encoding":{"x":{"field":"bar","type":"quantitative","scale":{"domain":[-34.05,308.5],"nice":false,"zero":false}},"y":{"field":"close","type":"quantitative","scale":{"domain":[34686,44900],"nice":false,"zero":false}}}},
{"data":{"name":"bars"},"transform":[{"filter":"datum.bar==307"}],"mark":{"type":"rule","color":"#ff1010","strokeWidth":2.5},"encoding":{"x":{"field":"bar","type":"quantitative","scale":{"domain":[-34.05,308.5],"nice":false,"zero":false}},"y":{"field":"high","type":"quantitative","scale":{"domain":[34686,44900],"nice":false,"zero":false}},"y2":{"field":"low"}}},
{"data":{"name":"priceMA"},"mark":{"type":"line","strokeWidth":2.4,"interpolate":"monotone"},"encoding":{"x":{"field":"bar","type":"quantitative","scale":{"domain":[-34.05,308.5],"nice":false,"zero":false}},"y":{"field":"v","type":"quantitative","scale":{"domain":[34686,44900],"nice":false,"zero":false}},"color":{"field":"ma","type":"nominal","legend":null,"scale":{"domain":["short","mid","long","slow"],"range":["#c890c8","#aab6c4","#00a400","#a5643c"]}},"order":{"field":"bar","type":"quantitative"}}},
{"data":{"name":"trend"},"mark":{"type":"line","color":"#ff0000","strokeWidth":8},"encoding":{"x":{"field":"bar","type":"quantitative","scale":{"domain":[-34.05,308.5],"nice":false,"zero":false}},"y":{"field":"price","type":"quantitative","scale":{"domain":[34686,44900],"nice":false,"zero":false}}}},
{"data":{"name":"frame"},"mark":{"type":"rect","fill":"transparent","stroke":"#ffffff","strokeWidth":5,"cornerRadius":3},"encoding":{"x":{"field":"left","type":"quantitative","scale":{"domain":[-34.05,308.5],"nice":false,"zero":false}},"x2":{"field":"right"},"y":{"field":"top","type":"quantitative","scale":{"domain":[34686,44900],"nice":false,"zero":false}},"y2":{"field":"bottom"}}}
]},
{"layer":[
{"data":{"name":"volumeGrid"},"mark":{"type":"rule","color":"#0000cc","strokeWidth":2},"encoding":{"x":{"field":"from","type":"quantitative","scale":{"domain":[-34.05,308.5],"nice":false,"zero":false}},"x2":{"field":"to"},"y":{"field":"level","type":"quantitative","scale":{"domain":[-5769,143077],"nice":false,"zero":false},"axis":{"orient":"left","offset":-149,"title":null,"domain":false,"grid":false,"ticks":false,"values":[0,10000,20000],"labelExpr":"format(datum.value, ',.0f')","labelColor":"#d4dce0","labelFont":"Noto Sans","labelFontSize":27,"labelPadding":3,"labelOffset":3,"labelOverlap":false,"labelFlush":false}}}},
{"data":{"name":"separator"},"mark":{"type":"rule","color":"#d0d0d0","strokeWidth":2.5},"encoding":{"x":{"field":"from","type":"quantitative","scale":{"domain":[-34.05,308.5],"nice":false,"zero":false}},"x2":{"field":"to"},"y":{"field":"level","type":"quantitative","scale":{"domain":[-5769,143077],"nice":false,"zero":false}}}},
{"data":{"name":"bars"},"mark":{"type":"bar","color":"#f2ee00","size":3.6,"orient":"vertical"},"encoding":{"x":{"field":"bar","type":"quantitative","scale":{"domain":[-34.05,308.5],"nice":false,"zero":false,"padding":0}},"y":{"field":"volume","type":"quantitative","stack":null,"scale":{"domain":[-5769,143077],"nice":false,"zero":false}}}},
{"data":{"name":"volumeMA"},"mark":{"type":"line","strokeWidth":2,"interpolate":"monotone"},"encoding":{"x":{"field":"bar","type":"quantitative","scale":{"domain":[-34.05,308.5],"nice":false,"zero":false}},"y":{"field":"v","type":"quantitative","scale":{"domain":[-5769,143077],"nice":false,"zero":false}},"color":{"field":"ma","type":"nominal","legend":null,"scale":{"domain":["short","long","slow"],"range":["#b878b8","#14e014","#b0704a"]}},"order":{"field":"bar","type":"quantitative"}}},
{"data":{"name":"masks"},"mark":{"type":"rect","color":"#000000"},"encoding":{"x":{"field":"a","type":"quantitative","scale":{"domain":[-34.05,308.5],"nice":false,"zero":false}},"x2":{"field":"b"},"y":{"field":"t","type":"quantitative","scale":{"domain":[-5769,143077],"nice":false,"zero":false}},"y2":{"field":"u"}}}
]}
]}
